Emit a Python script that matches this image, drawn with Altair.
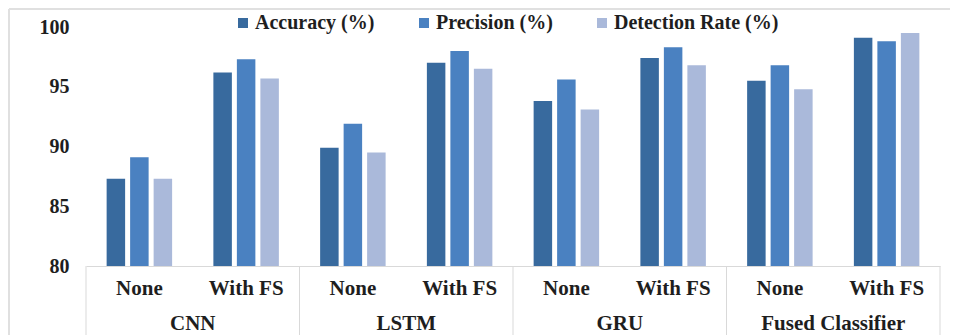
import altair as alt
import pandas as pd

groups = ["CNN", "LSTM", "GRU", "Fused Classifier"]
subs = ["None", "With FS"]
series = ["Accuracy (%)", "Precision (%)", "Detection Rate (%)"]
accuracy = [87.3, 96.2, 89.9, 97.0, 93.8, 97.4, 95.5, 99.1]
precision = [89.1, 97.3, 91.9, 98.0, 95.6, 98.3, 96.8, 98.8]
detection = [87.3, 95.7, 89.5, 96.5, 93.1, 96.8, 94.8, 99.5]
colors = ["#386A9E", "#4A81C1", "#AAB9DA"]
y_ticks = [80, 85, 90, 95, 100]

keys = [f"{g}|{s}" for g in groups for s in subs]
rows = []
for i, k in enumerate(keys):
    for name, vals in zip(series, [accuracy, precision, detection]):
        rows.append({"key": k, "series": name, "value": vals[i]})
df = pd.DataFrame(rows)
sub_df = pd.DataFrame({"key": keys, "label": [k.split("|")[1] for k in keys]})
grp_df = pd.DataFrame({"key": [f"{g}|None" for g in groups], "label": groups})
end_df = pd.DataFrame({"key": [keys[-1]]})
one = pd.DataFrame({"a": [0]})

W, H = 854, 239
PAD = {"left": 78, "top": 19, "right": 10, "bottom": 69}
BOTTOM = H + PAD["bottom"]
FONT = "Liberation Serif"
TXT = "#1E1E1E"
LINE = "#D9D9D9"

xscale = alt.Scale(domain=keys, paddingInner=0, paddingOuter=0)

bars = alt.Chart(df).mark_bar().encode(
    x=alt.X("key:N", scale=xscale, sort=keys,
            axis=alt.Axis(title=None, labels=False, ticks=False, domain=True,
                          domainColor=LINE, domainWidth=1)),
    xOffset=alt.XOffset("series:N", sort=series,
                        scale=alt.Scale(domain=series, paddingInner=0.213, paddingOuter=0.878)),
    y=alt.Y("value:Q", scale=alt.Scale(domain=[80, 100], zero=False, nice=False),
            axis=alt.Axis(values=y_ticks, title=None, domain=False, ticks=False, grid=False,
                          labelFont=FONT, labelFontWeight="bold", labelFontSize=20,
                          labelColor=TXT, labelPadding=17)),
    y2=alt.datum(80),
    color=alt.Color("series:N", sort=series, scale=alt.Scale(domain=series, range=colors),
                    legend=alt.Legend(title=None, orient="none", legendX=147, legendY=-14,
                                      direction="horizontal", symbolType="square",
                                      symbolSize=100, symbolStrokeWidth=0,
                                      labelFont=FONT, labelFontWeight="bold", labelFontSize=20,
                                      labelColor=TXT, labelOffset=2, columnPadding=39,
                                      labelLimit=400)),
)

sub_text = alt.Chart(sub_df).mark_text(font=FONT, fontWeight="bold", fontSize=21, color=TXT,
                                       baseline="alphabetic").encode(
    x=alt.X("key:N", scale=xscale, sort=keys),
    y=alt.value(268),
    text="label:N",
)

grp_text = alt.Chart(grp_df).mark_text(font=FONT, fontWeight="bold", fontSize=21, color=TXT,
                                       baseline="alphabetic").encode(
    x=alt.X("key:N", scale=xscale, sort=keys, bandPosition=1),
    y=alt.value(303),
    text="label:N",
)

dividers = alt.Chart(grp_df).mark_rule(color=LINE, strokeWidth=1).encode(
    x=alt.X("key:N", scale=xscale, sort=keys, bandPosition=0),
    y=alt.value(H),
    y2=alt.value(BOTTOM),
)

end_rule = alt.Chart(end_df).mark_rule(color=LINE, strokeWidth=1).encode(
    x=alt.X("key:N", scale=xscale, sort=keys, bandPosition=1),
    y=alt.value(H),
    y2=alt.value(BOTTOM),
)

border_top = alt.Chart(one).mark_rule(color="#E0E0E0", strokeWidth=2).encode(
    x=alt.value(-77), x2=alt.value(W + PAD["right"]), y=alt.value(-18),
)
border_left = alt.Chart(one).mark_rule(color="#E0E0E0", strokeWidth=2).encode(
    x=alt.value(-77), y=alt.value(-18), y2=alt.value(BOTTOM),
)

chart = alt.layer(border_top, border_left, dividers, end_rule, bars, sub_text, grp_text).properties(
    width=W, height=H, padding=PAD, autosize=alt.AutoSizeParams(type="none"),
    background="white",
).configure_view(stroke=None)

chart.save("out.html", embed_options={"renderer": "svg", "actions": False})
